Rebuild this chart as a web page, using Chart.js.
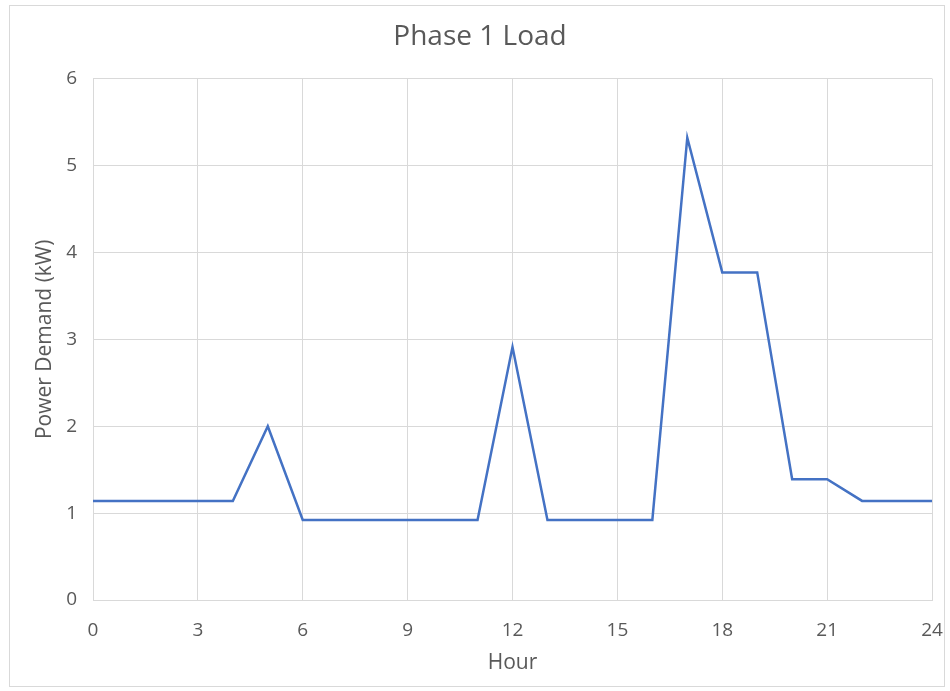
<!DOCTYPE html>
<html>
<head>
<meta charset="utf-8">
<script src="https://cdn.jsdelivr.net/npm/chart.js@4"></script>
<style>
  html, body { margin: 0; padding: 0; background: #ffffff; }
  #wrap { position: relative; width: 950px; height: 691px; }
  #frame { position: absolute; left: 9px; top: 5px; width: 936px; height: 682px; border: 1px solid #d9d9d9; box-sizing: border-box; pointer-events: none; }
  canvas { position: absolute; left: 0; top: 0; }
</style>
</head>
<body>
<div id="wrap">
  <canvas id="c" width="950" height="691"></canvas>
  <div id="frame"></div>
</div>
<script>
const chartTitle = "Phase 1 Load";
const xTitle = "Hour";
const yTitle = "Power Demand (kW)";
const hours = [0,1,2,3,4,5,6,7,8,9,10,11,12,13,14,15,16,17,18,19,20,21,22,23,24];
const demand = [1.14,1.14,1.14,1.14,1.14,2.0,0.92,0.92,0.92,0.92,0.92,0.92,2.91,0.92,0.92,0.92,0.92,5.32,3.77,3.77,1.39,1.39,1.14,1.14,1.14];
const xMin = 0, xMax = 24, xStep = 3;
const yMin = 0, yMax = 6, yStep = 1;

const FONT = "'Open Sans', 'Noto Sans', sans-serif";
const TXT = "#595959";
const GRID = "#d9d9d9";

new Chart(document.getElementById('c'), {
  type: 'scatter',
  data: {
    datasets: [{
      label: yTitle,
      data: hours.map((h, i) => ({ x: h, y: demand[i] })),
      showLine: true,
      borderColor: '#4472c4',
      backgroundColor: '#4472c4',
      borderWidth: 2.5,
      pointRadius: 0,
      tension: 0
    }]
  },
  options: {
    responsive: false,
    animation: false,
    devicePixelRatio: 1,
    layout: { padding: { left: 28, right: 18, top: 0, bottom: 0 } },
    plugins: {
      legend: { display: false },
      tooltip: { enabled: false },
      title: {
        display: true,
        text: chartTitle,
        color: TXT,
        font: { family: FONT, size: 28, weight: 'normal' },
        padding: { top: 20, bottom: 25 }
      }
    },
    scales: {
      x: {
        type: 'linear',
        min: xMin, max: xMax,
        ticks: { stepSize: xStep, color: TXT, font: { family: FONT, size: 19 }, padding: 19, maxRotation: 0 },
        grid: { color: GRID, lineWidth: 1, drawTicks: false },
        border: { color: GRID },
        title: { display: true, text: xTitle, color: TXT, font: { family: FONT, size: 21 }, padding: { top: 0, bottom: 15 } },
        afterFit: (s) => { s.height = 91; s.paddingLeft = 0; s.paddingRight = 0; }
      },
      y: {
        type: 'linear',
        min: yMin, max: yMax,
        ticks: { stepSize: yStep, color: TXT, font: { family: FONT, size: 19 }, padding: 16 },
        grid: { color: GRID, lineWidth: 1, drawTicks: false },
        border: { color: GRID },
        title: { display: true, text: yTitle, color: TXT, font: { family: FONT, size: 21 }, padding: { top: 4, bottom: 0 } },
        afterFit: (s) => { s.width = 65; s.paddingTop = 0; s.paddingBottom = 0; }
      }
    }
  }
});
</script>
</body>
</html>
